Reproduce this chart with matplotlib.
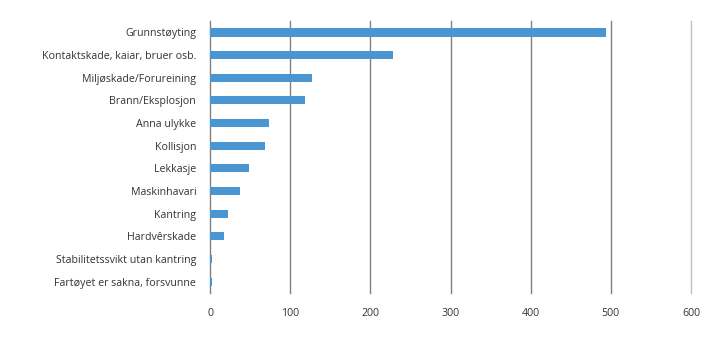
import matplotlib
matplotlib.use("Agg")
import matplotlib.pyplot as plt
import numpy as np

categories = ["Grunnstøyting", "Kontaktskade, kaiar, bruer osb.", "Miljøskade/Forureining",
              "Brann/Eksplosjon", "Anna ulykke", "Kollisjon", "Lekkasje", "Maskinhavari",
              "Kantring", "Hardvêrskade", "Stabilitetssvikt utan kantring",
              "Fartøyet er sakna, forsvunne"]
values = [494, 228, 127, 119, 74, 68, 49, 38, 22, 17, 2, 2]
xticks = [0, 100, 200, 300, 400, 500, 600]

plt.rcParams['font.family'] = ['Open Sans', 'DejaVu Sans']

fig = plt.figure(figsize=(7.2, 3.41), dpi=100)
ax = fig.add_axes([0.2917, 0.141, 0.668, 0.797])

y = np.arange(len(categories))
ax.barh(y, values, height=0.36, color='#4a96d2', zorder=3)

ax.set_xlim(0, 600)
ax.set_ylim(len(categories) - 0.5, -0.5)
ax.set_yticks(y)
ax.set_yticklabels(categories, fontsize=7.7, color='#333333')
ax.set_xticks(xticks)
ax.set_xticklabels([str(t) for t in xticks], fontsize=7.7, color='#333333')

for t in xticks[1:]:
    ax.axvline(t, color='#c0c0c0' if t == 600 else '#808080', lw=1.0, zorder=1, clip_on=False)

for s in ['top', 'right', 'bottom']:
    ax.spines[s].set_visible(False)
ax.spines['left'].set_color('#808080')
ax.spines['left'].set_linewidth(1.0)
ax.tick_params(axis='both', length=0)
ax.tick_params(axis='y', pad=10)
ax.tick_params(axis='x', pad=11)

fig.savefig('out.png', dpi=100)
